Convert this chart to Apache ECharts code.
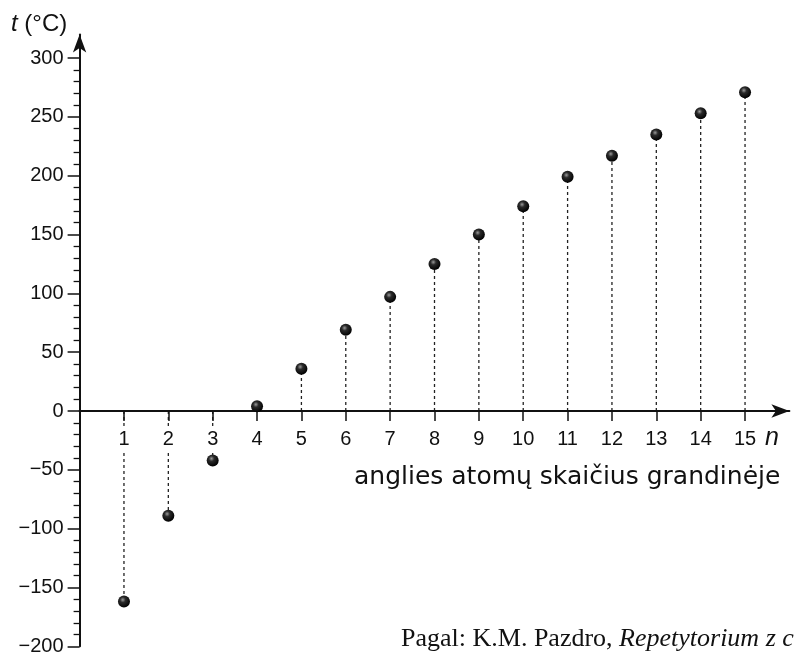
<!DOCTYPE html>
<html><head><meta charset="utf-8">
<script src="https://cdn.jsdelivr.net/npm/echarts@6/dist/echarts.min.js"></script>
<style>html,body{margin:0;padding:0;background:#fff}#c{width:794px;height:655px}</style>
</head><body><div id="c"></div>
<script>
var carbonCounts = [1,2,3,4,5,6,7,8,9,10,11,12,13,14,15];
var boilingPoints = [-162,-89,-42,4,36,69,97,125,150,174,199,217,235,253,271];
var xTickLabels = [1,2,3,4,5,6,7,8,9,10,11,12,13,14,15];
var yTickLabels = [-200,-150,-100,-50,0,50,100,150,200,250,300];
var yMinorTicks = [];
for (var v = -200; v <= 300; v += 10) { if (v % 50 !== 0) yMinorTicks.push(v); }

var points = carbonCounts.map(function(n,i){return [n, boilingPoints[i]];});
var chart = echarts.init(document.getElementById('c'), null, {renderer:'canvas'});
var font = 'Liberation Sans, Arial, sans-serif';
var narrow = 'Liberation Sans Narrow, Arial Narrow, sans-serif';
var gridTop = 34.5, gridBottom = 8.7, yMin = -200, yMax = 320;
var plotH = 655 - gridTop - gridBottom;
var zeroOffset = -plotH * (0 - yMin) / (yMax - yMin);
chart.setOption({
  animation:false,
  backgroundColor:'#fff',
  grid:{left:79.6,right:4.6,top:gridTop,bottom:gridBottom,containLabel:false,outerBoundsMode:'none'},
  title:[
    {text:'{i|t} (°C)', left:6, top:7, textStyle:{fontFamily:font,fontSize:24,fontWeight:'normal',color:'#111',
      rich:{i:{fontFamily:font,fontSize:24,fontStyle:'italic',color:'#111'}}}},
    {text:'n', left:760, top:421, textStyle:{fontFamily:font,fontSize:25,fontStyle:'italic',fontWeight:'normal',color:'#111'}},
    {text:'anglies atomų skaičius grandinėje', left:349, top:460, textStyle:{fontFamily:'DejaVu Sans, sans-serif',fontSize:25,fontWeight:'normal',color:'#111'}},
    {text:'Pagal: K.M. Pazdro, {i|Repetytorium z chemii}', left:396, top:621, textStyle:{fontFamily:'Liberation Serif, Times New Roman, serif',fontSize:26,fontWeight:'normal',color:'#111',
      rich:{i:{fontFamily:'Liberation Serif, Times New Roman, serif',fontSize:26,fontStyle:'italic',color:'#111'}}}}
  ],
  xAxis:{type:'value',min:0,max:16,z:5,position:'bottom',offset:zeroOffset,
    axisLine:{onZero:false,lineStyle:{color:'#111',width:2},symbol:['none','arrow'],symbolSize:[10,18]},
    axisTick:{customValues:xTickLabels,length:10,inside:false,lineStyle:{color:'#111',width:1.5}},
    axisLabel:{customValues:xTickLabels,margin:15,fontFamily:narrow,fontSize:20,color:'#111',backgroundColor:'#fff',padding:[3,2,3,2]},
    splitLine:{show:false}
  },
  yAxis:[
    {type:'value',min:yMin,max:yMax,z:5,
      axisLine:{onZero:false,lineStyle:{color:'#111',width:2},symbol:['none','arrow'],symbolSize:[10,18]},
      axisTick:{customValues:yTickLabels,length:12,lineStyle:{color:'#111',width:1.5}},
      axisLabel:{customValues:yTickLabels,margin:16,fontFamily:narrow,fontSize:20,color:'#111',
        formatter:function(v){return String(v).replace('-','\u2212');}},
      splitLine:{show:false}},
    {type:'value',min:yMin,max:yMax,position:'left',
      axisLine:{show:false},
      axisTick:{customValues:yMinorTicks,length:6,lineStyle:{color:'#111',width:1.3}},
      axisLabel:{show:false},
      splitLine:{show:false}}
  ],
  series:[
    {type:'custom',z:1,data:points,yAxisIndex:0,
      renderItem:function(params,api){
        var n=api.value(0), val=api.value(1);
        var p0=api.coord([n,0]), p1=api.coord([n,val]);
        return {type:'line',shape:{x1:p0[0],y1:p0[1],x2:p1[0],y2:p1[1]},
          style:{stroke:'#222',lineWidth:1.3,lineDash:[3,3]}};
      }},
    {type:'scatter',z:6,data:points,yAxisIndex:0,symbolSize:12,
      itemStyle:{opacity:1,color:{type:'radial',x:0.4,y:0.35,r:0.65,colorStops:[{offset:0,color:'#9a9a9a'},{offset:0.35,color:'#2a2a2a'},{offset:1,color:'#000'}]}}}
  ]
});
</script></body></html>
